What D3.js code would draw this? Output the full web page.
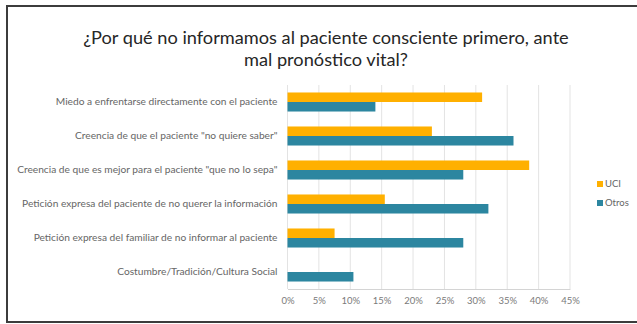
<!DOCTYPE html>
<html><head><meta charset="utf-8">
<script src="https://cdn.jsdelivr.net/npm/d3@7/dist/d3.min.js"></script>
<style>body{margin:0;background:#fff}</style>
</head><body>
<svg id="c" width="637" height="324"></svg>
<script>
const categories = [
  "Miedo a enfrentarse directamente con el paciente",
  "Creencia de que el paciente \"no quiere saber\"",
  "Creencia de que es mejor para el paciente \"que no lo sepa\"",
  "Petición expresa del paciente de no querer la información",
  "Petición expresa del familiar de no informar al paciente",
  "Costumbre/Tradición/Cultura Social"
];
const seriesNames = ["UCI", "Otros"];
const uci   = [31, 23, 38.5, 15.5, 7.5, 0];
const otros = [14, 36, 28, 32, 28, 10.5];
const ticks = [0, 5, 10, 15, 20, 25, 30, 35, 40, 45];
const titleLines = ["¿Por qué no informamos al paciente consciente primero, ante", "mal pronóstico vital?"];
const colors = ["#FFB000", "#2C86A0"];

const svg = d3.select("#c");
const font = "Lato, 'Open Sans', sans-serif";

// frame
svg.append("rect").attr("x",7).attr("y",6).attr("width",640).attr("height",316)
  .attr("fill","none").attr("stroke","#3c3c3c").attr("stroke-width",2);

// title
svg.append("text").attr("x",326).attr("y",44).attr("text-anchor","middle")
  .attr("font-family",font).attr("font-size",18.2).attr("fill","#262626")
  .selectAll("tspan").data(titleLines).join("tspan")
  .attr("x",326).attr("dy",(d,i)=>i?22:0).text(d=>d);

const x = d3.scaleLinear().domain([0,45]).range([287.5,570]);
const y = d3.scaleBand().domain(categories).range([85,289]).paddingInner(0.44).paddingOuter(0.22);
const ys = d3.scaleBand().domain(seriesNames).range([0,y.bandwidth()]);

// grid
svg.append("g").selectAll("line").data(ticks).join("line")
  .attr("x1",d=>x(d)).attr("x2",d=>x(d)).attr("y1",85).attr("y2",289)
  .attr("stroke","#e3e3e3").attr("stroke-width",1);

// x axis
const xAxis = svg.append("g").attr("transform","translate(0,289)")
  .call(d3.axisBottom(x).tickValues(ticks).tickSize(0).tickPadding(8).tickFormat(d=>d+"%"));
xAxis.select(".domain").attr("stroke","#d4d4d4");
xAxis.selectAll("text").attr("font-family",font).attr("font-size",9.5).attr("fill","#7a7a7a");

// bars
const data = categories.map((c,i)=>({c, vals:[{s:"UCI",v:uci[i]},{s:"Otros",v:otros[i]}]}));
const g = svg.append("g");
g.selectAll("g").data(data).join("g")
  .attr("transform",d=>`translate(0,${y(d.c)})`)
  .selectAll("rect").data(d=>d.vals).join("rect")
  .attr("x",x(0)).attr("y",d=>ys(d.s)).attr("height",ys.bandwidth())
  .attr("width",d=>x(d.v)-x(0)).attr("fill",(d,i)=>colors[i]);

// y axis labels
const yAxis = svg.append("g").attr("transform","translate(287.5,0)")
  .call(d3.axisLeft(y).tickSize(0).tickPadding(10));
yAxis.select(".domain").remove();
yAxis.selectAll("text").attr("font-family",font).attr("font-size",10.2).attr("fill","#666");

// legend
const leg = svg.append("g").attr("transform","translate(597,0)");
const li = leg.selectAll("g").data(seriesNames).join("g")
  .attr("transform",(d,i)=>`translate(0,${184+i*19})`);
li.append("rect").attr("x",0).attr("y",-3).attr("width",6).attr("height",6).attr("fill",(d,i)=>colors[i]);
li.append("text").attr("x",8).attr("dy","0.35em").attr("font-family",font).attr("font-size",9.5)
  .attr("fill","#666").text(d=>d);
</script>
</body></html>
